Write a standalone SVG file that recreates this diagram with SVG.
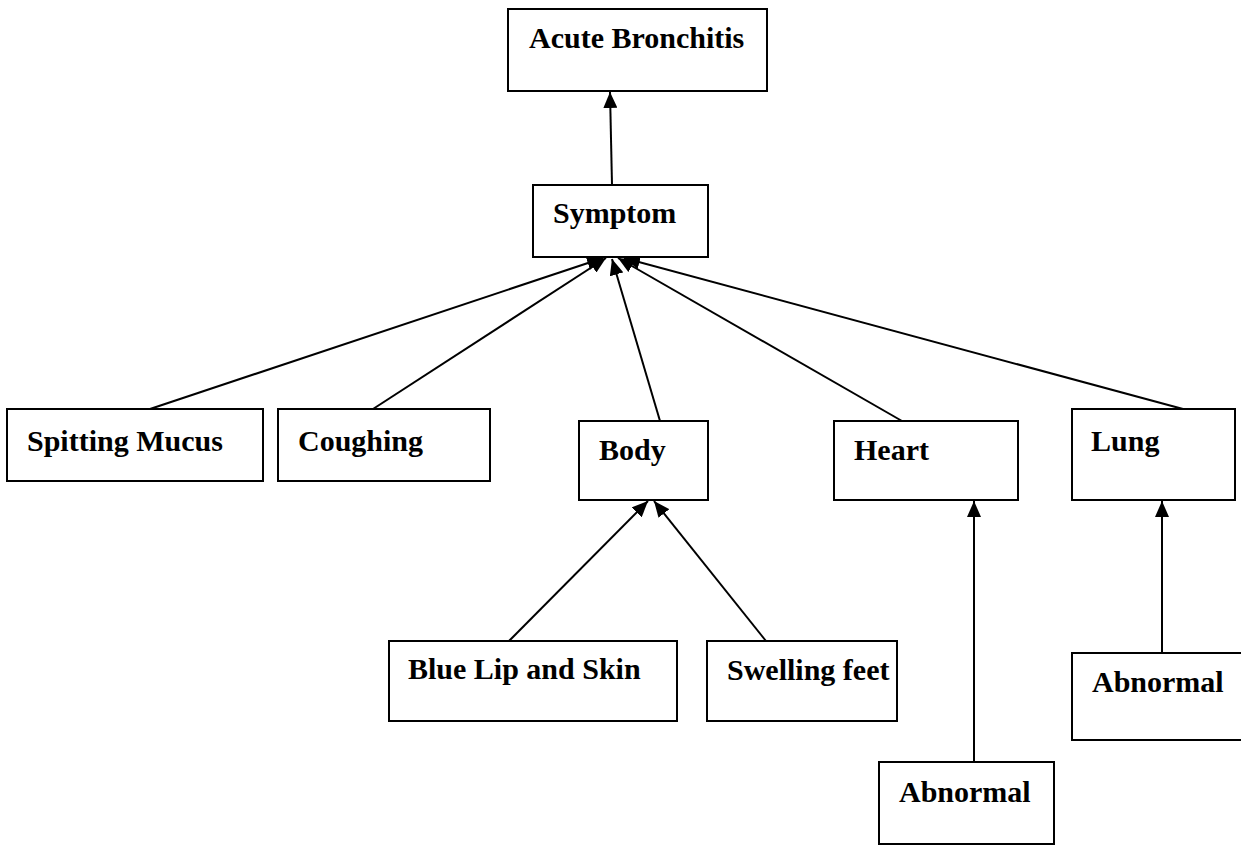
<svg xmlns="http://www.w3.org/2000/svg" width="1241" height="846" viewBox="0 0 1241 846">
  <style>
    .box { fill: #ffffff; stroke: #000000; stroke-width: 2; }
    .lbl { font-family: "Liberation Serif", "Times New Roman", serif; font-weight: bold; font-size: 30px; fill: #000000; }
    .edge { stroke: #000000; stroke-width: 2; fill: none; marker-end: url(#arrow); }
  </style>
  <defs>
    <marker id="arrow" markerUnits="userSpaceOnUse" markerWidth="16" markerHeight="14" viewBox="0 0 16 14" refX="16" refY="7" orient="auto">
      <path d="M0,0 L16,7 L0,14 Z" fill="#000000"/>
    </marker>
  </defs>
  <rect x="0" y="0" width="1241" height="846" fill="#ffffff"/>

  <g id="connectors">
    <line class="edge" x1="612" y1="185" x2="610" y2="92"/>
    <line class="edge" x1="150" y1="409" x2="603" y2="258"/>
    <line class="edge" x1="373" y1="409" x2="606" y2="258"/>
    <line class="edge" x1="660" y1="421" x2="612" y2="259"/>
    <line class="edge" x1="902" y1="421" x2="618" y2="258"/>
    <line class="edge" x1="1183" y1="409" x2="624" y2="258"/>
    <line class="edge" x1="509" y1="641" x2="648" y2="501"/>
    <line class="edge" x1="766" y1="641" x2="654" y2="501"/>
    <line class="edge" x1="974" y1="762" x2="974" y2="501"/>
    <line class="edge" x1="1162" y1="653" x2="1162" y2="501"/>
  </g>

  <g id="acute-bronchitis">
    <rect class="box" x="508" y="9" width="259" height="82"/>
    <text class="lbl" x="529" y="48">Acute Bronchitis</text>
  </g>
  <g id="symptom">
    <rect class="box" x="533" y="185" width="175" height="72"/>
    <text class="lbl" x="553" y="223">Symptom</text>
  </g>
  <g id="spitting-mucus">
    <rect class="box" x="7" y="409" width="256" height="72"/>
    <text class="lbl" x="27" y="451">Spitting Mucus</text>
  </g>
  <g id="coughing">
    <rect class="box" x="278" y="409" width="212" height="72"/>
    <text class="lbl" x="298" y="451">Coughing</text>
  </g>
  <g id="body">
    <rect class="box" x="579" y="421" width="129" height="79"/>
    <text class="lbl" x="599" y="460">Body</text>
  </g>
  <g id="heart">
    <rect class="box" x="834" y="421" width="184" height="79"/>
    <text class="lbl" x="854" y="460">Heart</text>
  </g>
  <g id="lung">
    <rect class="box" x="1072" y="409" width="163" height="91"/>
    <text class="lbl" x="1091" y="451">Lung</text>
  </g>
  <g id="blue-lip-and-skin">
    <rect class="box" x="389" y="641" width="288" height="80"/>
    <text class="lbl" x="408" y="679">Blue Lip and Skin</text>
  </g>
  <g id="swelling-feet">
    <rect class="box" x="707" y="641" width="190" height="80"/>
    <text class="lbl" x="727" y="680">Swelling feet</text>
  </g>
  <g id="heart-abnormal">
    <rect class="box" x="879" y="762" width="175" height="82"/>
    <text class="lbl" x="899" y="802">Abnormal</text>
  </g>
  <g id="lung-abnormal">
    <rect class="box" x="1072" y="653" width="180" height="87"/>
    <text class="lbl" x="1092" y="692">Abnormal</text>
  </g>
</svg>
